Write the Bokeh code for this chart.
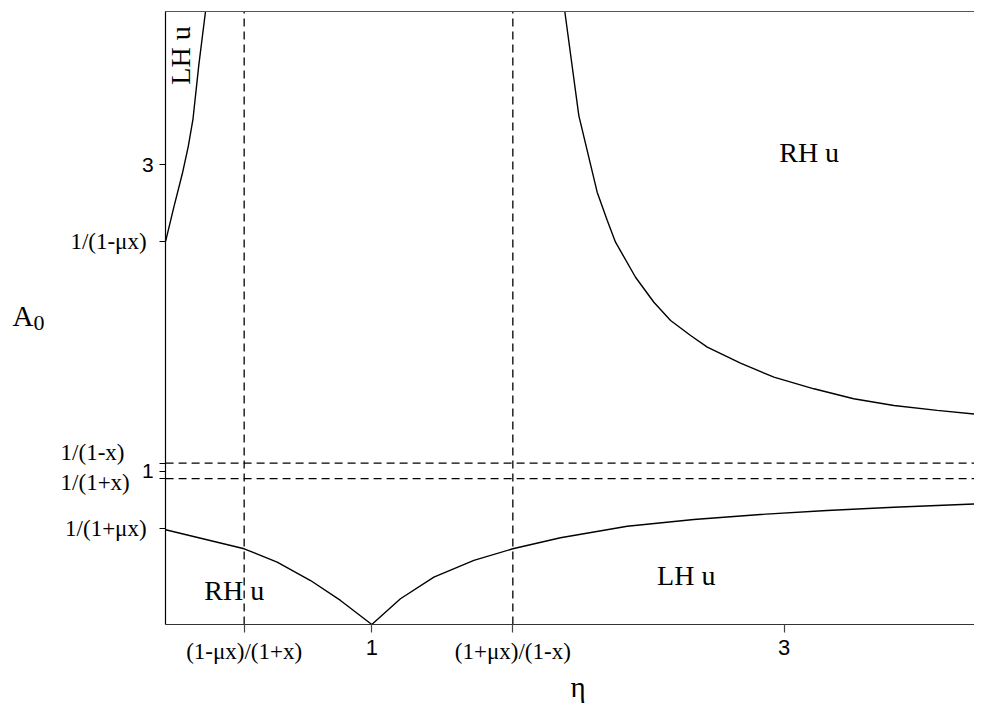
from bokeh.plotting import figure
from bokeh.models import FixedTicker, LinearAxis, Label, Range1d
from bokeh.embed import file_html
from bokeh.resources import INLINE
from bokeh.core.properties import value
import numpy as np

# ---------------- data ----------------
lh_upper_eta = [0.0, 0.040, 0.081, 0.110, 0.133, 0.161, 0.1935]
lh_upper_a = [2.50, 2.723, 2.941, 3.120, 3.300, 3.650, 4.0]

rh_upper_eta = [1.936, 2.004, 2.093, 2.142, 2.182, 2.279, 2.368, 2.449, 2.546,
                2.627, 2.788, 2.950, 3.144, 3.337, 3.532, 3.742, 3.960]
rh_upper_a = [4.0, 3.321, 2.821, 2.636, 2.495, 2.266, 2.103, 1.984, 1.886,
              1.810, 1.705, 1.614, 1.538, 1.473, 1.429, 1.397, 1.368]

lower_eta = [0.0, 0.381, 0.541, 0.703, 0.848, 1.0, 1.139, 1.301, 1.495, 1.684,
             1.915, 2.239, 2.562, 2.885, 3.208, 3.532, 3.960]
lower_a = [0.618, 0.494, 0.407, 0.287, 0.157, 0.0, 0.168, 0.309, 0.418, 0.494,
           0.566, 0.641, 0.685, 0.718, 0.744, 0.765, 0.788]

v_lines = [0.381, 1.684]
h_lines = [1.0526, 0.952]

x_ticks = [0.381, 1.0, 1.684, 3.0]
x_tick_labels = ["(1-μx)/(1+x)", "1", "(1+μx)/(1-x)", "3"]

y_ticks = [0.625, 0.952, 1.0, 1.0526, 2.5, 3.0]
y_tick_labels = ["1/(1+μx)", "1/(1+x)", "1", "1/(1-x)", "1/(1-μx)", "3"]

region_eta = [3.121, 0.333, 2.525]
region_a = [3.077, 0.225, 0.323]
region_text = ["RH u", "RH u", "LH u"]

side_eta = [0.0723]
side_a = [3.713]
side_text = ["LH u"]

ETA_MIN, ETA_MAX = 0.0, 4.0
A_MIN, A_MAX = 0.0, 4.0

SERIF = "Liberation Serif"
SANS = "Liberation Sans"

# ---------------- layout (pixels) ----------------
W, H = 974, 703
LEFT_PX, BOTTOM_PX = 165.1, 624.0      # where eta=0 / A=0 sit on the canvas
PX_PER_ETA, PX_PER_A = 206.2, 153.25

x_range = Range1d(-LEFT_PX / PX_PER_ETA, (W - LEFT_PX) / PX_PER_ETA)
y_range = Range1d(-(H - BOTTOM_PX) / PX_PER_A, BOTTOM_PX / PX_PER_A)

p = figure(width=W, height=H, output_backend="svg", toolbar_location=None,
           x_range=x_range, y_range=y_range,
           min_border=0, min_border_left=0, min_border_right=0,
           min_border_top=0, min_border_bottom=0,
           x_axis_location=None, y_axis_location=None)
p.outline_line_color = None
p.xgrid.visible = False
p.ygrid.visible = False
p.background_fill_color = "white"
p.border_fill_color = "white"

# bottom axis (A = 0)
x_over = {t: (lab if "/" in lab else "") for t, lab in zip(x_ticks, x_tick_labels)}
xax = LinearAxis(ticker=FixedTicker(ticks=x_ticks, minor_ticks=[]),
                 fixed_location=A_MIN, bounds=(ETA_MIN, ETA_MAX),
                 major_label_overrides=x_over,
                 major_tick_out=8, major_tick_in=0,
                 major_tick_line_color="#444444", major_tick_line_width=1.2,
                 axis_line_color="#333333", axis_line_width=1.2,
                 major_label_standoff=6,
                 major_label_text_font=SERIF, major_label_text_font_size="23px",
                 major_label_text_color="black")
p.add_layout(xax, "below")

# left axis (eta = 0)
aligned_y = {0.625, 2.5}
y_over = {t: (lab if t in aligned_y else "") for t, lab in zip(y_ticks, y_tick_labels)}
yax = LinearAxis(ticker=FixedTicker(ticks=y_ticks, minor_ticks=[]),
                 fixed_location=ETA_MIN, bounds=(A_MIN, A_MAX),
                 major_label_overrides=y_over,
                 major_tick_out=6, major_tick_in=0,
                 major_tick_line_color="black", major_tick_line_width=1.2,
                 axis_line_color="black", axis_line_width=1.2,
                 major_label_standoff=13,
                 major_label_text_font=SERIF, major_label_text_font_size="23px",
                 major_label_text_color="black")
p.add_layout(yax, "left")

# top frame line (A = 4)
top = LinearAxis(ticker=FixedTicker(ticks=[], minor_ticks=[]),
                 fixed_location=A_MAX, bounds=(ETA_MIN, ETA_MAX),
                 major_tick_out=0, major_tick_in=0, major_label_standoff=0,
                 axis_line_color="#555555", axis_line_width=1.2)
p.add_layout(top, "above")

# dashed reference lines
p.segment(x0=v_lines, x1=v_lines, y0=[A_MIN] * len(v_lines), y1=[A_MAX] * len(v_lines),
          line_color="black", line_width=1.3, line_dash="8 5")
p.segment(x0=[ETA_MIN] * len(h_lines), x1=[ETA_MAX] * len(h_lines), y0=h_lines, y1=h_lines,
          line_color="black", line_width=1.3, line_dash="8 5")

# curves
p.line(lh_upper_eta, lh_upper_a, line_color="black", line_width=1.4)
p.line(rh_upper_eta, rh_upper_a, line_color="black", line_width=1.4)
p.line(lower_eta, lower_a, line_color="black", line_width=1.4)

# region texts
p.text(x=region_eta, y=region_a, text=region_text, text_font=value(SERIF),
       text_font_size="28px", text_align="center", text_baseline="middle",
       text_color="black")
p.text(x=side_eta, y=side_a, text=side_text, text_font=value(SERIF),
       text_font_size="28px", text_align="center", text_baseline="middle",
       angle=np.pi / 2, text_color="black")

# x tick numbers (sans)
for t, lab in zip(x_ticks, x_tick_labels):
    if "/" not in lab:
        p.add_layout(Label(x=t, y=A_MIN, y_offset=-22.5, text=lab,
                           text_font=SANS, text_font_size="22px",
                           text_align="center", text_baseline="middle",
                           text_color="black"))

# y tick numbers (sans) and offset fraction labels
for t, lab in zip(y_ticks, y_tick_labels):
    if "/" not in lab:
        p.add_layout(Label(x=ETA_MIN, x_offset=-11.8, y=t, text=lab,
                           text_font=SANS, text_font_size="21px",
                           text_align="right", text_baseline="middle",
                           text_color="black"))
    elif t not in aligned_y:
        off = 11 if t > 1 else -4
        p.add_layout(Label(x=ETA_MIN, x_offset=-105, y=t, y_offset=off, text=lab,
                           text_font=SERIF, text_font_size="23px",
                           text_align="left", text_baseline="middle",
                           text_color="black"))

# axis titles
p.add_layout(Label(x=2.0, y=A_MIN, y_offset=-62, text="η",
                   text_font=SERIF, text_font_size="29px",
                   text_align="center", text_baseline="middle", text_color="black"))
p.add_layout(Label(x=ETA_MIN, x_offset=-153, y=A_MIN, y_offset=309, text="A",
                   text_font=SERIF, text_font_size="29px",
                   text_align="left", text_baseline="middle", text_color="black"))
p.add_layout(Label(x=ETA_MIN, x_offset=-132, y=A_MIN, y_offset=302, text="0",
                   text_font=SERIF, text_font_size="22px",
                   text_align="left", text_baseline="middle", text_color="black"))

open("out.html", "w").write(file_html(p, INLINE))
